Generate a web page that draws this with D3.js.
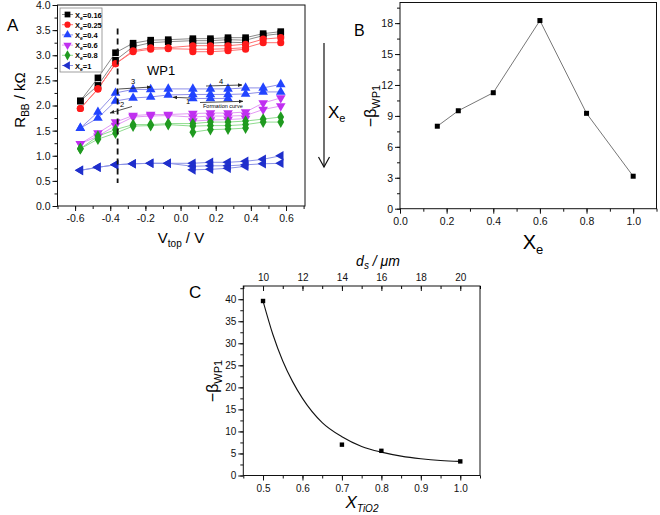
<!DOCTYPE html>
<html><head><meta charset="utf-8">
<script src="https://cdn.jsdelivr.net/npm/d3@7"></script>
<style>
body{margin:0;background:#fff;}
svg{font-family:"Liberation Sans",Arial,sans-serif;}
</style></head>
<body><svg id="c" width="660" height="515"></svg>
<script>
// ---------- Panel A data ----------
const vTop = [-0.57,-0.47,-0.37,-0.27,-0.17,-0.07,0.07,0.17,0.27,0.37,0.47,0.57];
const legendLabels = ["0.16","0.25","0.4","0.6","0.8","1"];
const rXe016 = [
  [2.09,2.55,3.05,3.24,3.30,3.31,3.33,3.33,3.35,3.35,3.43,3.47],
  [2.09,2.40,2.90,3.17,3.25,3.27,3.29,3.29,3.31,3.30,3.39,3.43],
  [null,null,null,null,null,null,3.24,3.24,3.26,3.25,null,null]];
const rXe025 = [
  [1.94,2.33,2.83,3.09,3.15,3.15,3.19,3.19,3.19,3.22,3.32,3.35],
  [1.94,2.33,2.83,3.07,3.12,3.13,3.12,3.12,3.13,3.15,3.25,3.25],
  [null,null,null,null,null,null,3.07,3.07,3.09,3.12,null,null]];
const rXe04 = [
  [1.55,1.87,2.25,2.32,2.32,2.33,2.33,2.33,2.33,2.35,2.35,2.42],
  [1.55,1.75,2.09,2.15,2.17,2.21,2.22,2.22,2.22,2.23,2.27,2.27],
  [null,null,null,null,null,null,2.14,2.14,2.14,null,null,null]];
const rXe06 = [
  [1.24,1.45,1.67,1.80,1.82,1.82,1.84,1.85,1.85,1.87,2.05,2.15],
  [1.24,1.39,1.60,1.77,1.79,1.80,1.77,1.79,1.79,1.80,1.92,1.99],
  [null,null,null,null,null,null,1.69,1.71,1.72,1.74,null,null]];
const rXe08 = [
  [1.14,1.39,1.52,1.62,1.62,1.64,1.64,1.67,1.67,1.69,1.73,1.77],
  [1.14,1.33,1.45,1.59,1.60,1.62,1.59,1.60,1.60,1.62,1.67,1.67],
  [null,null,null,null,null,null,1.47,1.52,1.53,1.55,null,null]];
const rXe1 = [
  [0.71,0.77,0.82,0.84,0.85,0.85,0.85,0.87,0.87,0.89,0.93,1.00],
  [0.71,0.77,0.82,0.84,0.85,0.85,0.79,0.80,0.80,0.82,0.84,0.85],
  [null,null,null,null,null,null,0.72,0.73,0.75,0.79,null,null]];

// ---------- Panel B data ----------
const xeB = [0.16,0.25,0.4,0.6,0.8,1.0];
const betaB = [8.0,9.5,11.25,18.25,9.25,3.15];

// ---------- Panel C data ----------
const xTiO2 = [0.5,0.7,0.8,1.0];
const betaC = [39.6,7.0,5.6,3.2];
const fitX = [0.5,0.525,0.55,0.575,0.6,0.65,0.7,0.75,0.8,0.85,0.9,0.95,1.0];
const fitY = [39.6,32.0,26.0,21.3,17.5,12.0,8.8,6.6,5.3,4.4,3.8,3.4,3.2];

const svg = d3.select("#c");
const fmt1 = d => d3.format(".1f")(d).replace("\u2212","-");
const fmt0 = d => d3.format("d")(d);

function axes(g, x, y, o){
  const [x0,x1] = x.range(), [y0,y1] = y.range();
  // minor ticks
  g.append("g").attr("transform",`translate(0,${y0})`)
    .call(d3.axisBottom(x).tickValues(o.xMinor).tickSize(3).tickFormat(""))
    .call(a=>a.select(".domain").remove());
  g.append("g").attr("transform",`translate(${x0},0)`)
    .call(d3.axisLeft(y).tickValues(o.yMinor).tickSize(3).tickFormat(""))
    .call(a=>a.select(".domain").remove());
  g.append("g").attr("transform",`translate(0,${y0})`)
    .call(d3.axisBottom(x).tickValues(o.xMajor).tickSize(5).tickPadding(4).tickFormat(o.xf))
    .call(a=>a.select(".domain").remove());
  g.append("g").attr("transform",`translate(${x0},0)`)
    .call(d3.axisLeft(y).tickValues(o.yMajor).tickSize(5).tickPadding(2).tickFormat(o.yf))
    .call(a=>a.select(".domain").remove());
  g.selectAll(".tick text").attr("font-size", o.fs).attr("fill","#111")
    .attr("font-family","'Liberation Sans',Arial,sans-serif");
  g.selectAll(".tick line").attr("stroke","#111");
  g.append("rect").attr("x",x0).attr("y",y1).attr("width",x1-x0).attr("height",y0-y1)
    .attr("fill","none").attr("stroke","#111").attr("stroke-width",1);
}
const rng = (a,b,s)=>d3.range(Math.round(a/s),Math.round(b/s)+1).map(i=>+(i*s).toFixed(4));

// ================= Panel A =================
const gA = svg.append("g");
const xA = d3.scaleLinear().domain([-0.7,0.708]).range([57.5,305]);
const yA = d3.scaleLinear().domain([0,4]).range([206,5]);
axes(gA,xA,yA,{xMajor:rng(-0.6,0.6,0.2),xMinor:rng(-0.7,0.7,0.1),
  yMajor:rng(0,4,0.5),yMinor:rng(0,4,0.25),xf:fmt1,yf:fmt1,fs:10.5});

const seriesA = [
  {data:rXe016, mk:"#000000", ln:"#8a8a8a", sym:d3.symbolSquare, size:44, rot:0},
  {data:rXe025, mk:"#ff1a1a", ln:"#ff7070", sym:d3.symbolCircle, size:40, rot:0},
  {data:rXe04,  mk:"#2244ff", ln:"#8f8fe8", sym:d3.symbolTriangle, size:40, rot:0},
  {data:rXe06,  mk:"#c030f0", ln:"#e39af5", sym:d3.symbolTriangle, size:40, rot:180},
  {data:rXe08,  mk:"#1f9a1f", ln:"#8edc8e", sym:d3.symbolDiamond, size:40, rot:0},
  {data:rXe1,   mk:"#1f2fcc", ln:"#8c93e6", sym:d3.symbolTriangle, size:40, rot:-90}
];
const lineA = d3.line().defined(d=>d.y!=null).x(d=>xA(d.x)).y(d=>yA(d.y));
seriesA.forEach(s=>{
  s.data.forEach(sw=>{
    const pts = vTop.map((v,i)=>({x:v,y:sw[i]}));
    gA.append("path").attr("d",lineA(pts)).attr("fill","none")
      .attr("stroke",s.ln).attr("stroke-width",1);
  });
});
seriesA.forEach(s=>{
  s.data.forEach(sw=>{
    vTop.forEach((v,i)=>{
      if(sw[i]==null) return;
      gA.append("path").attr("d",d3.symbol(s.sym,s.size)())
        .attr("transform",`translate(${xA(v)},${yA(sw[i])}) rotate(${s.rot})`)
        .attr("fill",s.mk);
    });
  });
});
// dashed vertical line
gA.append("line").attr("x1",xA(-0.358)).attr("x2",xA(-0.358))
  .attr("y1",yA(3.53)).attr("y2",yA(0.46))
  .attr("stroke","#111").attr("stroke-width",1.8).attr("stroke-dasharray","6,4");
gA.append("text").attr("x",147).attr("y",75).attr("font-size",13).text("WP1");

// small annotation arrows
const defs = svg.append("defs");
defs.append("marker").attr("id","ah").attr("viewBox","0 0 10 10").attr("refX",9).attr("refY",5)
  .attr("markerWidth",6).attr("markerHeight",6).attr("orient","auto")
  .append("path").attr("d","M0,1 L10,5 L0,9 Z").attr("fill","#222");
const ann = [
  {x1:119,y1:89,x2:151,y2:87,t:"3",tx:131,ty:84},
  {x1:206,y1:86,x2:242,y2:85,t:"4",tx:219,ty:84},
  {x1:190,y1:98,x2:173,y2:97.3,t:"1",tx:186,ty:104},
  {x1:132,y1:106.5,x2:110,y2:113,t:"2",tx:120,ty:107},
  {x1:200,y1:102.5,x2:243,y2:101.3,t:"",tx:0,ty:0}
];
ann.forEach(a=>{
  gA.append("line").attr("x1",a.x1).attr("y1",a.y1).attr("x2",a.x2).attr("y2",a.y2)
    .attr("stroke","#222").attr("stroke-width",0.8).attr("marker-end","url(#ah)");
  if(a.t) gA.append("text").attr("x",a.tx).attr("y",a.ty).attr("font-size",7.5).text(a.t);
});
gA.append("text").attr("x",203).attr("y",108).attr("font-size",5.5).text("Formation curve");

// legend
const lg = gA.append("g");
lg.append("rect").attr("x",60).attr("y",8).attr("width",42).attr("height",64)
  .attr("fill","#fff").attr("stroke","#888").attr("stroke-width",0.8);
seriesA.forEach((s,i)=>{
  const yy = 14.5 + i*10.2;
  lg.append("line").attr("x1",62).attr("x2",73).attr("y1",yy).attr("y2",yy)
    .attr("stroke",s.ln).attr("stroke-width",1);
  lg.append("path").attr("d",d3.symbol(s.sym,s.size*0.75)())
    .attr("transform",`translate(67.5,${yy}) rotate(${s.rot})`).attr("fill",s.mk);
  const t = lg.append("text").attr("x",75).attr("y",yy+3).attr("font-size",7.5).attr("font-weight","bold");
  t.append("tspan").text("X");
  t.append("tspan").attr("font-size",5).attr("dy",2).text("e");
  t.append("tspan").attr("dy",-2).text("="+legendLabels[i]);
});

// axis labels A
gA.append("text").attr("x",7).attr("y",31).attr("font-size",17).text("A");
const ylA = gA.append("text").attr("transform","translate(25,100) rotate(-90)")
  .attr("text-anchor","middle").attr("font-size",15);
ylA.append("tspan").text("R");
ylA.append("tspan").attr("font-size",10).attr("dy",4).text("BB");
ylA.append("tspan").attr("dy",-4).text(" / k\u03A9");
const xlA = gA.append("text").attr("x",181).attr("y",243).attr("text-anchor","middle").attr("font-size",15);
xlA.append("tspan").text("V");
xlA.append("tspan").attr("font-size",10).attr("dy",4).text("top");
xlA.append("tspan").attr("dy",-4).text(" / V");

// big Xe arrow
gA.append("line").attr("x1",324).attr("x2",324).attr("y1",43).attr("y2",167)
  .attr("stroke","#111").attr("stroke-width",1.2);
gA.append("path").attr("d","M318.5,157 L324,167 L329.5,157").attr("fill","none")
  .attr("stroke","#111").attr("stroke-width",1.2);
const xe = gA.append("text").attr("x",328).attr("y",118).attr("font-size",17);
xe.append("tspan").text("X");
xe.append("tspan").attr("font-size",11).attr("dy",4).text("e");

// ================= Panel B =================
const gB = svg.append("g");
const xB = d3.scaleLinear().domain([0,1.1]).range([400,656.5]);
const yB = d3.scaleLinear().domain([0,20]).range([208.7,2.5]);
axes(gB,xB,yB,{xMajor:rng(0,1,0.2),xMinor:rng(0,1.1,0.1),
  yMajor:rng(0,18,3),yMinor:rng(0,19.5,1.5),xf:fmt1,yf:fmt0,fs:10.5});
gB.append("path").datum(xeB.map((x,i)=>[x,betaB[i]]))
  .attr("d",d3.line().x(d=>xB(d[0])).y(d=>yB(d[1])))
  .attr("fill","none").attr("stroke","#777").attr("stroke-width",1);
gB.selectAll(".pt").data(xeB).enter().append("rect")
  .attr("x",(d)=>xB(d)-2.5).attr("y",(d,i)=>yB(betaB[i])-2.5)
  .attr("width",5).attr("height",5).attr("fill","#000");
gB.append("text").attr("x",354).attr("y",36).attr("font-size",16).text("B");
const ylB = gB.append("text").attr("transform","translate(376,106) rotate(-90)")
  .attr("text-anchor","middle").attr("font-size",16);
ylB.append("tspan").text("\u2212\u03B2");
ylB.append("tspan").attr("font-size",11).attr("dy",4).text("WP1");
const xlB = gB.append("text").attr("x",533).attr("y",249).attr("text-anchor","middle").attr("font-size",20);
xlB.append("tspan").text("X");
xlB.append("tspan").attr("font-size",13).attr("dy",5).text("e");

// ================= Panel C =================
const gC = svg.append("g");
const xC = d3.scaleLinear().domain([0.45,1.05]).range([243.3,480]);
const yC = d3.scaleLinear().domain([0,43]).range([475.5,286]);
const dsC = d3.scaleLinear().domain([9,21]).range([243.3,480]);
axes(gC,xC,yC,{xMajor:rng(0.5,1,0.1),xMinor:rng(0.45,1.05,0.05),
  yMajor:rng(0,40,5),yMinor:rng(0,42.5,2.5),xf:fmt1,yf:fmt0,fs:10});
gC.append("g").attr("transform","translate(0,286)")
  .call(d3.axisTop(dsC).tickValues(rng(9,21,1)).tickSize(-3).tickFormat(""))
  .call(a=>a.select(".domain").remove());
gC.append("g").attr("transform","translate(0,286)")
  .call(d3.axisTop(dsC).tickValues(rng(10,20,2)).tickSize(-5).tickPadding(5).tickFormat(fmt0))
  .call(a=>a.select(".domain").remove())
  .call(a=>a.selectAll("text").attr("font-size",10).attr("fill","#111"))
  .call(a=>a.selectAll("line").attr("stroke","#111"));
gC.append("path").datum(fitX.map((x,i)=>[x,fitY[i]]))
  .attr("d",d3.line().curve(d3.curveMonotoneX).x(d=>xC(d[0])).y(d=>yC(d[1])))
  .attr("fill","none").attr("stroke","#111").attr("stroke-width",1.1);
gC.selectAll(".pt").data(xTiO2).enter().append("rect")
  .attr("x",d=>xC(d)-2.2).attr("y",(d,i)=>yC(betaC[i])-2.2)
  .attr("width",4.4).attr("height",4.4).attr("fill","#000");
gC.append("text").attr("x",189).attr("y",298).attr("font-size",17).text("C");
const ylC = gC.append("text").attr("transform","translate(218,381) rotate(-90)")
  .attr("text-anchor","middle").attr("font-size",16);
ylC.append("tspan").text("\u2212\u03B2");
ylC.append("tspan").attr("font-size",11).attr("dy",4).text("WP1");
const xlC = gC.append("text").attr("x",362).attr("y",508).attr("text-anchor","middle")
  .attr("font-size",17).attr("font-style","italic");
xlC.append("tspan").text("X");
xlC.append("tspan").attr("font-size",10).attr("dy",4).text("TiO2");
const tlC = gC.append("text").attr("x",378).attr("y",266).attr("text-anchor","middle")
  .attr("font-size",14).attr("font-style","italic");
tlC.append("tspan").text("d");
tlC.append("tspan").attr("font-size",10).attr("dy",3).text("s");
tlC.append("tspan").attr("dy",-3).text(" / \u03BCm");
</script></body></html>
